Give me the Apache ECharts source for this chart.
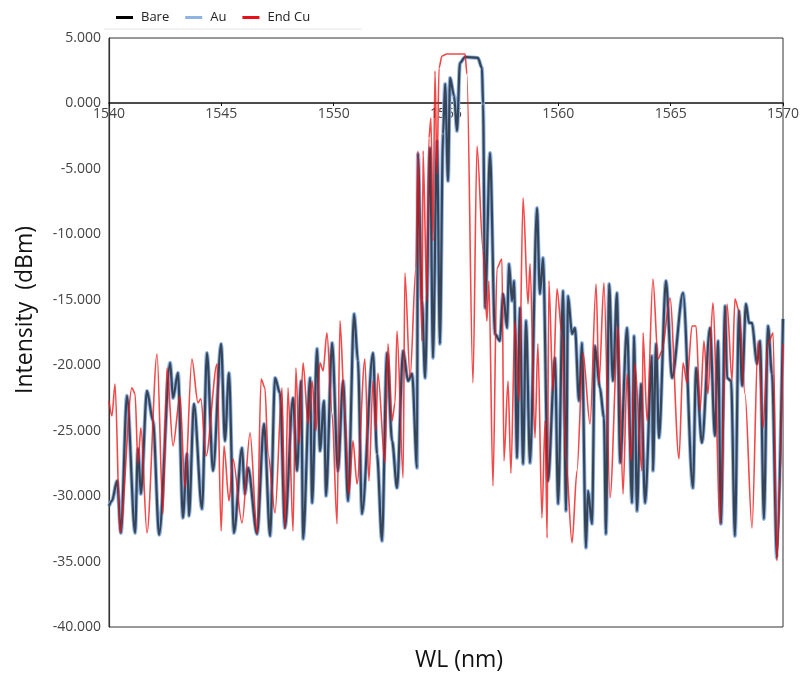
<!DOCTYPE html>
<html>
<head>
<meta charset="utf-8">
<script src="https://cdn.jsdelivr.net/npm/echarts@6/dist/echarts.min.js"></script>
<style>
html,body{margin:0;padding:0;background:#fff;}
#chart{width:803px;height:675px;}
</style>
</head>
<body>
<div id="chart"></div>
<script>
// ---- data (wavelength nm, intensity dBm) ----
const seriesNames = ['Bare', 'Au', 'End Cu'];

const bareWl = [1540.00,1540.13,1540.36,1540.53,1540.80,1541.16,1541.29,1541.42,1541.69,1541.96,1542.23,1542.72,1542.85,1543.07,1543.29,1543.47,1543.56,1543.78,1544.14,1544.36,1544.63,1544.99,1545.16,1545.34,1545.56,1545.92,1546.05,1546.19,1546.59,1546.90,1547.17,1547.39,1547.61,1547.83,1548.19,1548.37,1548.55,1548.64,1548.95,1549.04,1549.26,1549.39,1549.57,1549.66,1549.93,1550.19,1550.42,1550.64,1550.91,1551.08,1551.26,1551.75,1551.93,1552.15,1552.37,1552.60,1552.82,1553.09,1553.31,1553.49,1553.71,1553.75,1553.93,1554.07,1554.29,1554.42,1554.60,1554.73,1554.87,1554.96,1555.09,1555.18,1555.36,1555.49,1555.62,1555.85,1556.42,1556.60,1556.65,1556.74,1556.96,1557.18,1557.40,1557.54,1557.72,1557.80,1557.94,1558.03,1558.16,1558.29,1558.43,1558.56,1558.74,1559.05,1559.18,1559.32,1559.54,1559.85,1559.99,1560.21,1560.34,1560.43,1560.61,1560.74,1560.92,1561.05,1561.23,1561.32,1561.50,1561.63,1561.85,1562.03,1562.12,1562.26,1562.43,1562.61,1562.75,1563.06,1563.28,1563.37,1563.50,1563.68,1563.86,1564.17,1564.21,1564.35,1564.48,1564.79,1565.06,1565.55,1565.99,1566.13,1566.39,1566.75,1566.97,1567.11,1567.24,1567.42,1567.51,1567.69,1567.86,1568.04,1568.18,1568.35,1568.49,1568.62,1568.84,1568.98,1569.15,1569.33,1569.51,1569.73,1570.00];
const bareDbm = [-30.75,-30.37,-28.84,-32.81,-22.34,-32.81,-26.39,-29.83,-21.96,-24.25,-32.96,-19.82,-22.50,-20.59,-31.66,-26.77,-31.51,-22.96,-30.98,-19.06,-28.07,-18.37,-25.78,-20.59,-32.81,-26.32,-29.83,-27.84,-32.89,-24.48,-33.04,-20.97,-22.12,-32.43,-22.50,-28.07,-21.20,-33.27,-20.97,-30.52,-18.75,-26.55,-22.73,-29.98,-18.30,-28.07,-21.20,-30.37,-16.08,-19.67,-31.36,-19.06,-26.77,-33.42,-19.06,-25.78,-29.37,-18.91,-21.20,-20.66,-27.84,-3.86,-15.09,-20.97,-3.40,-19.44,-2.86,-18.37,-2.33,1.49,-5.92,1.95,0.57,-2.10,3.09,3.55,3.48,2.71,-0.04,-15.62,-3.78,-17.61,-18.14,-14.55,-17.15,-12.26,-15.09,-13.56,-27.08,-15.62,-27.54,-16.61,-27.46,-7.98,-14.55,-11.80,-28.84,-19.44,-30.59,-14.32,-31.13,-14.71,-17.61,-17.15,-22.73,-18.30,-33.95,-29.60,-32.12,-18.52,-21.73,-24.02,-32.89,-13.79,-21.20,-14.48,-27.46,-17.15,-30.52,-17.76,-31.13,-21.43,-30.52,-19.29,-28.07,-18.37,-25.55,-13.56,-20.97,-14.48,-29.37,-20.21,-25.93,-17.15,-25.40,-18.14,-32.12,-15.47,-20.97,-21.20,-33.04,-15.85,-21.58,-15.32,-16.77,-16.77,-19.90,-18.14,-31.74,-17.00,-20.66,-34.72,-16.46];

const auWl = [1540.00,1540.13,1540.36,1540.53,1540.80,1541.16,1541.29,1541.42,1541.69,1541.96,1542.23,1542.72,1542.85,1543.07,1543.29,1543.47,1543.56,1543.78,1544.14,1544.36,1544.63,1544.99,1545.16,1545.34,1545.56,1545.92,1546.05,1546.19,1546.59,1546.90,1547.17,1547.39,1547.61,1547.83,1548.19,1548.37,1548.55,1548.64,1548.95,1549.04,1549.26,1549.39,1549.57,1549.66,1549.93,1550.19,1550.42,1550.64,1550.91,1551.08,1551.26,1551.75,1551.93,1552.15,1552.37,1552.60,1552.82,1553.09,1553.31,1553.49,1553.71,1553.75,1553.93,1554.07,1554.29,1554.42,1554.60,1554.73,1554.87,1554.96,1555.09,1555.18,1555.36,1555.49,1555.62,1555.85,1556.42,1556.60,1556.65,1556.74,1556.96,1557.18,1557.40,1557.54,1557.72,1557.80,1557.94,1558.03,1558.16,1558.29,1558.43,1558.56,1558.74,1559.05,1559.18,1559.32,1559.54,1559.85,1559.99,1560.21,1560.34,1560.43,1560.61,1560.74,1560.92,1561.05,1561.23,1561.32,1561.50,1561.63,1561.85,1562.03,1562.12,1562.26,1562.43,1562.61,1562.75,1563.06,1563.28,1563.37,1563.50,1563.68,1563.86,1564.17,1564.21,1564.35,1564.48,1564.79,1565.06,1565.55,1565.99,1566.13,1566.39,1566.75,1566.97,1567.11,1567.24,1567.42,1567.51,1567.69,1567.86,1568.04,1568.18,1568.35,1568.49,1568.62,1568.84,1568.98,1569.15,1569.33,1569.51,1569.73,1570.00];
const auDbm = [-30.75,-30.37,-28.84,-32.81,-22.34,-32.81,-26.39,-29.83,-21.96,-24.25,-32.96,-19.82,-22.50,-20.59,-31.66,-26.77,-31.51,-22.96,-30.98,-19.06,-28.07,-18.37,-25.78,-20.59,-32.81,-26.32,-29.83,-27.84,-32.89,-24.48,-33.04,-20.97,-22.12,-32.43,-22.50,-28.07,-21.20,-33.27,-20.97,-30.52,-18.75,-26.55,-22.73,-29.98,-18.30,-28.07,-21.20,-30.37,-16.08,-19.67,-31.36,-19.06,-26.77,-33.42,-19.06,-25.78,-29.37,-18.91,-21.20,-20.66,-27.84,-3.86,-15.09,-20.97,-3.40,-19.44,-2.86,-18.37,-2.33,1.49,-5.92,1.95,0.57,-2.10,3.09,3.55,3.48,2.71,-0.04,-15.62,-3.78,-17.61,-18.14,-14.55,-17.15,-12.26,-15.09,-13.56,-27.08,-15.62,-27.54,-16.61,-27.46,-7.98,-14.55,-11.80,-28.84,-19.44,-30.59,-14.32,-31.13,-14.71,-17.61,-17.15,-22.73,-18.30,-33.95,-29.60,-32.12,-18.52,-21.73,-24.02,-32.89,-13.79,-21.20,-14.48,-27.46,-17.15,-30.52,-17.76,-31.13,-21.43,-30.52,-19.29,-28.07,-18.37,-25.55,-13.56,-20.97,-14.48,-29.37,-20.21,-25.93,-17.15,-25.40,-18.14,-32.12,-15.47,-20.97,-21.20,-33.04,-15.85,-21.58,-15.32,-16.77,-16.77,-19.90,-18.14,-31.74,-17.00,-20.66,-34.72,-16.46];

const cuWl = [1540.00,1540.13,1540.27,1540.49,1541.02,1541.16,1541.29,1541.42,1541.69,1542.14,1542.40,1542.58,1542.85,1543.16,1543.38,1543.69,1543.96,1544.09,1544.32,1544.81,1544.99,1545.12,1545.34,1545.52,1545.92,1546.28,1546.59,1546.77,1546.94,1547.08,1547.39,1547.70,1547.83,1547.97,1548.19,1548.32,1548.46,1548.64,1548.86,1549.04,1549.21,1549.39,1549.53,1549.70,1549.93,1550.15,1550.28,1550.50,1550.68,1550.86,1551.04,1551.39,1551.57,1551.75,1551.88,1551.97,1552.28,1552.42,1552.60,1552.73,1552.82,1553.09,1553.17,1553.40,1553.66,1553.75,1553.93,1553.98,1554.15,1554.24,1554.33,1554.42,1554.51,1554.60,1554.69,1554.82,1555.04,1555.85,1555.93,1556.20,1556.38,1556.65,1556.82,1556.91,1557.09,1557.27,1557.49,1557.58,1557.76,1557.89,1558.07,1558.25,1558.43,1558.65,1558.74,1558.96,1559.09,1559.27,1559.41,1559.50,1559.58,1559.76,1559.94,1560.16,1560.34,1560.61,1560.83,1561.10,1561.41,1561.68,1561.81,1562.03,1562.30,1562.66,1562.88,1563.06,1563.23,1563.41,1563.72,1563.77,1563.95,1564.21,1564.44,1564.61,1564.97,1565.37,1565.55,1565.73,1565.95,1566.13,1566.31,1566.48,1566.66,1566.88,1567.20,1567.51,1567.73,1567.86,1568.04,1568.31,1568.62,1568.89,1569.11,1569.33,1569.56,1569.73,1569.87,1570.00];
const cuDbm = [-22.73,-23.87,-21.43,-32.81,-21.73,-22.19,-27.54,-24.79,-32.81,-19.14,-31.36,-20.21,-26.16,-22.34,-29.37,-19.52,-22.88,-22.57,-26.93,-19.90,-32.66,-26.16,-30.37,-27.16,-32.05,-25.17,-32.89,-21.05,-21.73,-26.77,-31.28,-21.73,-32.50,-21.73,-32.66,-20.21,-26.01,-19.82,-24.48,-21.20,-25.02,-19.82,-20.43,-17.53,-23.72,-32.12,-16.61,-23.72,-29.83,-25.78,-29.07,-19.52,-28.84,-21.20,-25.02,-20.59,-27.46,-18.37,-24.25,-22.88,-17.38,-28.61,-12.95,-20.97,-12.57,-3.63,-18.14,-3.63,-15.09,-2.64,-1.11,-10.50,2.48,-5.39,2.71,3.63,3.78,3.78,2.25,-21.35,-3.25,-11.27,-16.61,-13.56,-29.22,-12.57,-11.88,-27.31,-21.20,-28.23,-16.61,-22.73,-7.22,-15.32,-12.26,-25.55,-18.37,-31.66,-24.25,-33.19,-13.56,-21.96,-14.17,-17.61,-27.31,-33.57,-28.07,-19.06,-24.48,-13.79,-21.43,-13.71,-30.14,-17.00,-29.83,-20.66,-27.31,-19.90,-28.07,-17.53,-24.25,-13.41,-19.52,-18.91,-14.86,-27.16,-19.82,-21.35,-17.00,-17.00,-23.49,-18.14,-22.19,-15.24,-32.12,-15.32,-21.20,-14.93,-15.85,-22.19,-32.43,-18.14,-24.79,-18.37,-17.53,-34.95,-28.61,-18.37];

const xTicks = [1540, 1545, 1550, 1555, 1560, 1565, 1570];
const yTicks = [5, 0, -5, -10, -15, -20, -25, -30, -35, -40];

function pairs(xs, ys) { return xs.map((x, i) => [x, ys[i]]); }

const W = 803, H = 675;
const gridTop = 38, gridBottom = 48;
const plotH = H - gridTop - gridBottom;
const yMin = yTicks[yTicks.length - 1], yMax = yTicks[0];
const zeroOffset = -Math.round(plotH * (0 - yMin) / (yMax - yMin));

const chart = echarts.init(document.getElementById('chart'), null, {renderer: 'canvas'});
const FONT = 'Open Sans, Liberation Sans, sans-serif';
const option = {
  animation: false,
  backgroundColor: '#fff',
  textStyle: {fontFamily: FONT},
  legend: {
    left: 111, top: 6,
    itemGap: 16, itemWidth: 17, itemHeight: 3,
    icon: 'rect',
    textStyle: {fontSize: 13, color: '#222', fontFamily: FONT, padding: [0, 0, 0, 3]},
    data: [
      {name: seriesNames[0], itemStyle: {color: '#000'}},
      {name: seriesNames[1], itemStyle: {color: '#8fb4e3'}},
      {name: seriesNames[2], itemStyle: {color: '#e8101a'}}
    ]
  },
  graphic: [
    {type: 'line', shape: {x1: 104, y1: 29, x2: 362, y2: 29}, style: {stroke: '#e6e6e6', lineWidth: 1}},
    {type: 'text', x: 459, y: 660, style: {text: 'WL (nm)', fontSize: 23, fill: '#111', fontFamily: FONT, align: 'center', verticalAlign: 'middle'}},
    {type: 'text', x: 25, y: 310, rotation: Math.PI / 2, style: {text: 'Intensity  (dBm)', fontSize: 23, fill: '#111', fontFamily: FONT, align: 'center', verticalAlign: 'middle'}}
  ],
  grid: {left: 109, right: 20, top: gridTop, bottom: gridBottom, show: true, borderColor: '#333', borderWidth: 1, backgroundColor: 'transparent'},
  xAxis: {
    type: 'value', min: xTicks[0], max: xTicks[xTicks.length - 1], interval: 5,
    position: 'bottom', offset: zeroOffset,
    axisLine: {onZero: false, lineStyle: {color: '#111', width: 1.5}},
    axisTick: {show: true, length: 3, lineStyle: {color: '#111'}},
    axisLabel: {fontSize: 14, color: '#444', margin: 4, showMinLabel: true, showMaxLabel: true, formatter: v => String(v)},
    splitLine: {show: false}
  },
  yAxis: {
    type: 'value', min: yMin, max: yMax, interval: 5,
    axisLine: {show: true, onZero: false, lineStyle: {color: '#333', width: 1.2}},
    axisTick: {show: false},
    axisLabel: {fontSize: 14, color: '#444', margin: 8, formatter: v => v.toFixed(3)},
    splitLine: {show: false}
  },
  series: [
    {name: seriesNames[0], type: 'line', z: 3, data: pairs(bareWl, bareDbm), showSymbol: false, smooth: 0.3, smoothMonotone: 'x',
     lineStyle: {color: '#000', width: 2.2, opacity: 0.62}, itemStyle: {color: '#000'}},
    {name: seriesNames[1], type: 'line', z: 2, data: pairs(auWl, auDbm), showSymbol: false, smooth: 0.3, smoothMonotone: 'x',
     lineStyle: {color: '#8fb4e3', width: 4}, itemStyle: {color: '#8fb4e3'}},
    {name: seriesNames[2], type: 'line', z: 4, data: pairs(cuWl, cuDbm), showSymbol: false, smooth: 0.3, smoothMonotone: 'x',
     lineStyle: {color: '#f01515', width: 1.6, opacity: 0.78}, itemStyle: {color: '#e8101a'}}
  ]
};
chart.setOption(option);
</script>
</body>
</html>
